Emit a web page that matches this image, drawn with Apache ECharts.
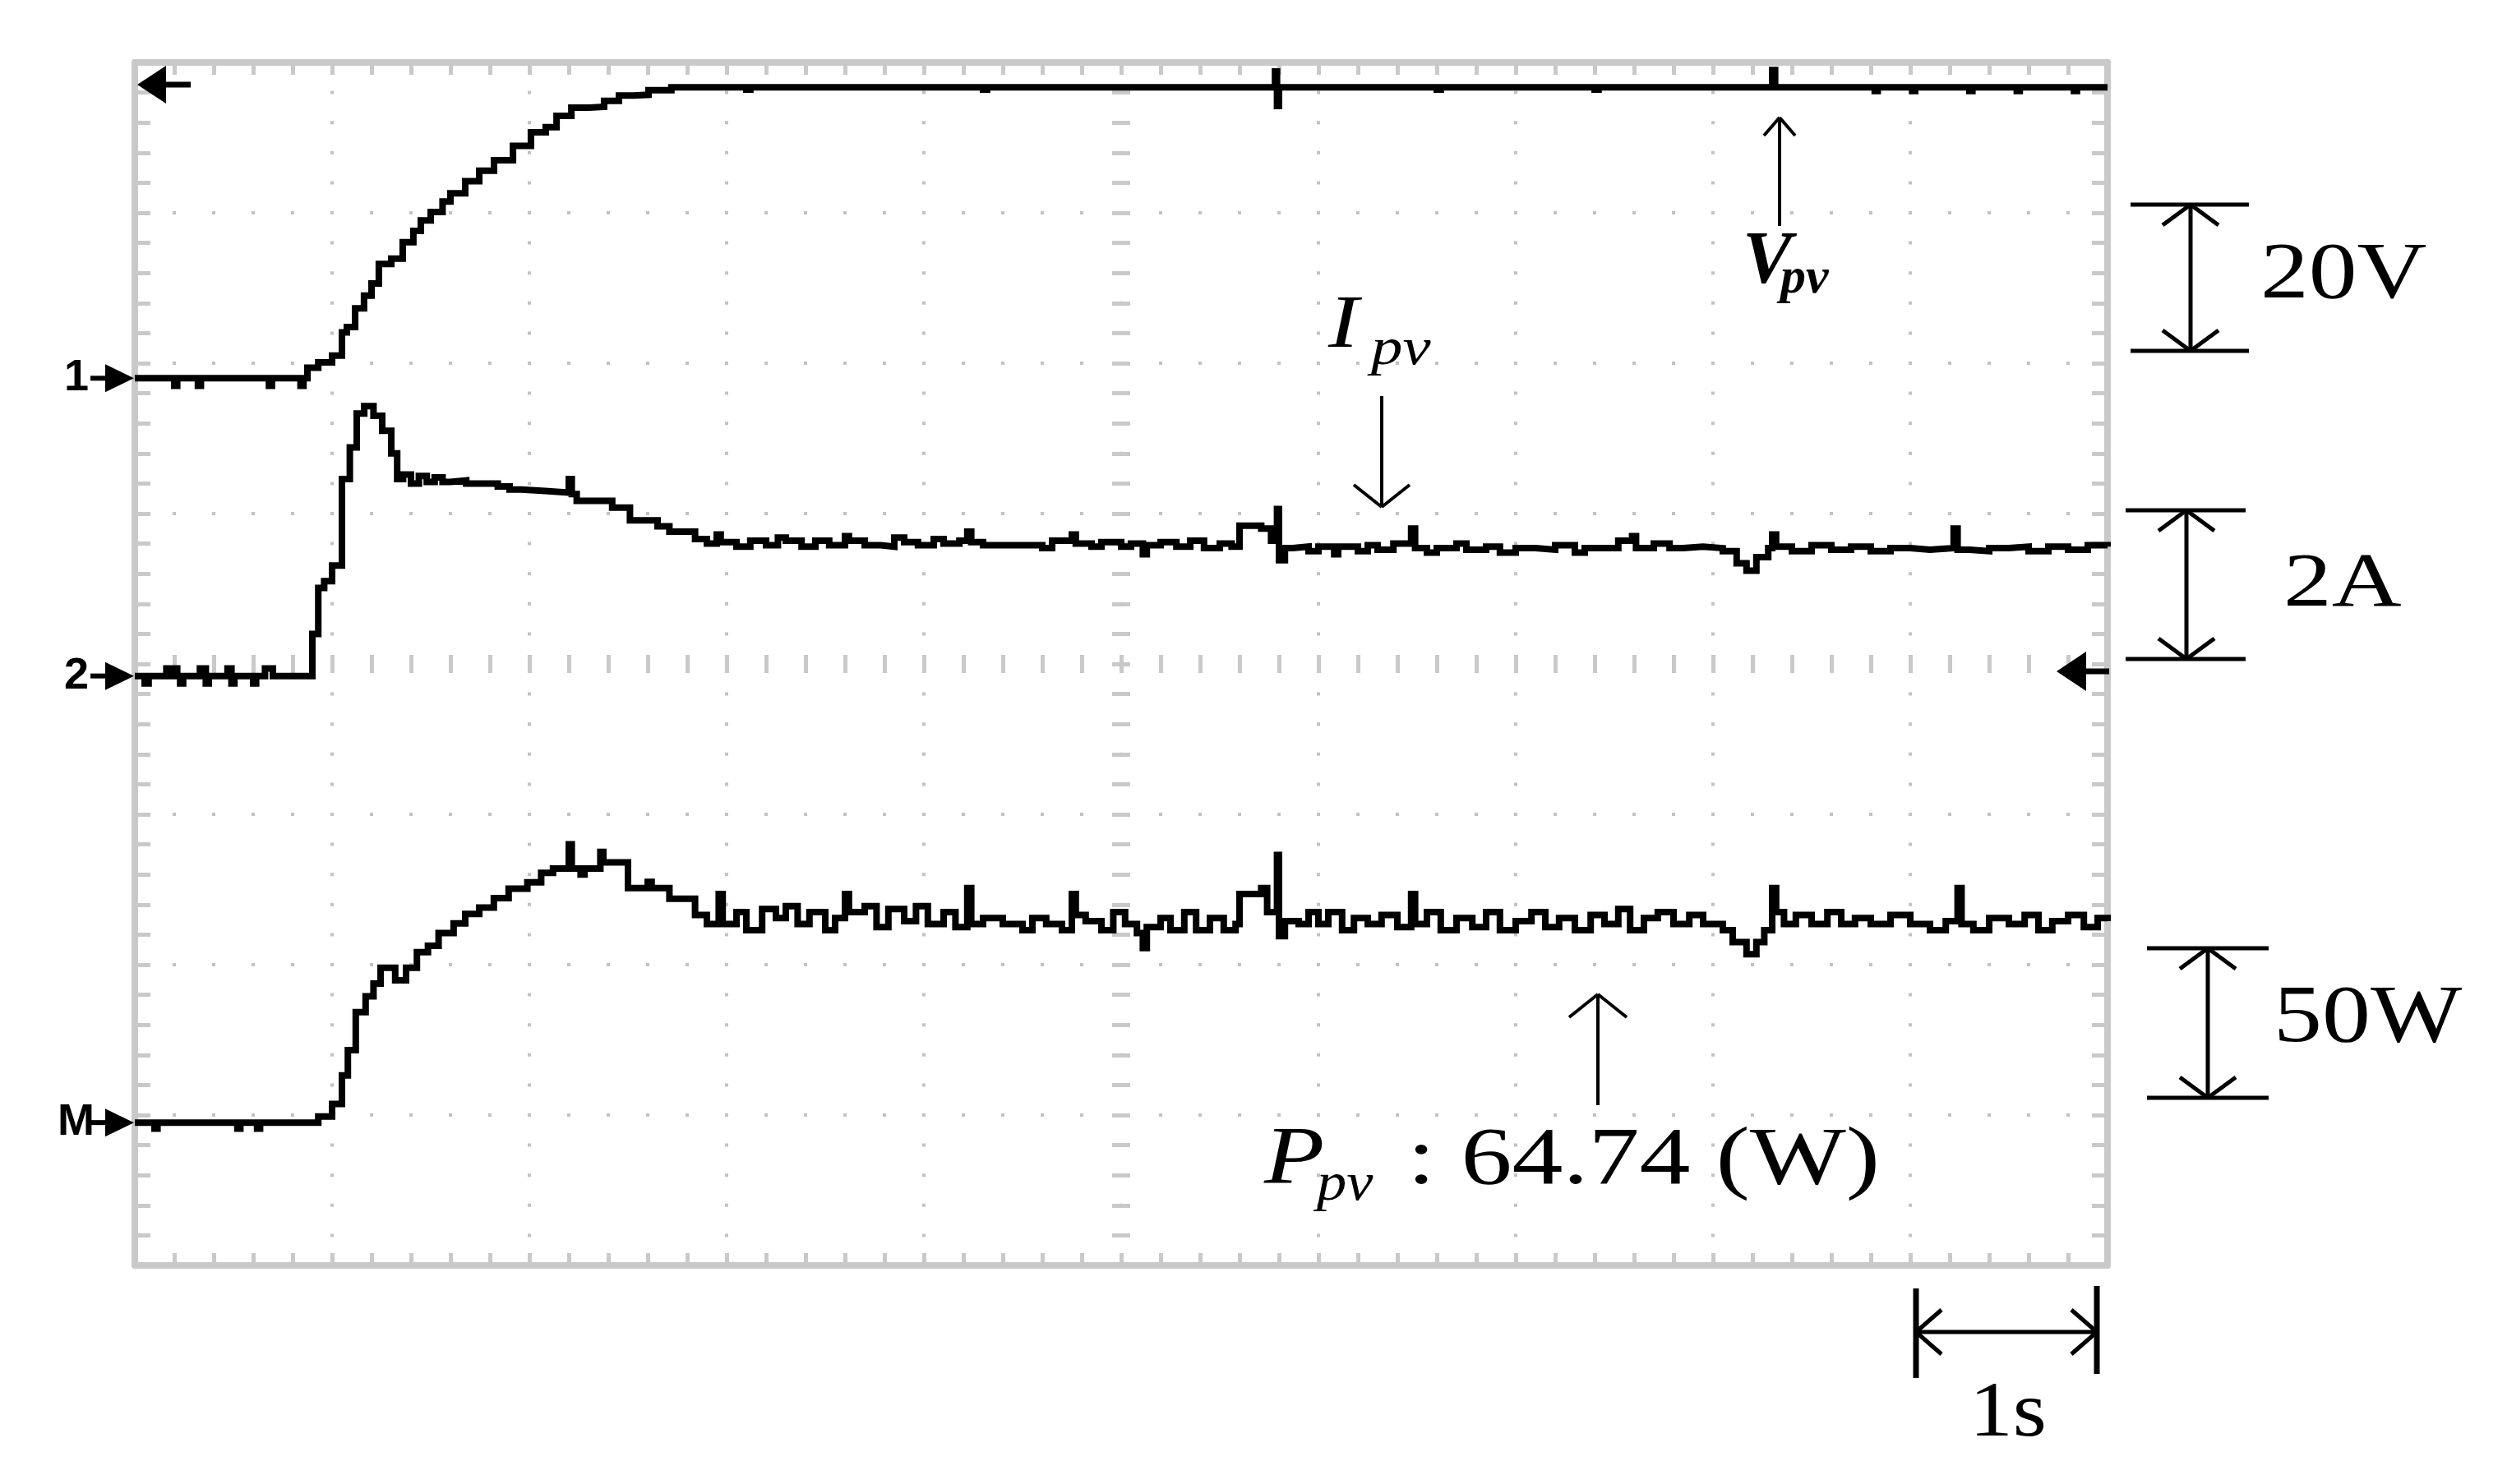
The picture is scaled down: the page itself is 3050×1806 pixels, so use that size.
<!DOCTYPE html>
<html>
<head>
<meta charset="utf-8">
<script src="https://cdn.jsdelivr.net/npm/echarts@6/dist/echarts.min.js"></script>
<style>
html,body{margin:0;padding:0;background:#fff;}
#chart{width:3050px;height:1806px;}
</style>
</head>
<body>
<div id="chart"></div>
<script>
// ---- Oscilloscope settings (per division) ----
const TIME_DIVS = [0, 10];          // 1 s / div
const VPV_SCALE = 20, VPV_GROUND = 1.9;    // 20 V/div, ground at +1.9 div
const IPV_SCALE = 2,  IPV_GROUND = -0.08;  // 2 A/div
const PPV_SCALE = 50, PPV_GROUND = -3.05;  // 50 W/div

// ---- Traces: [time (s), value] ----
const VPV = [
[0,0],[0.2,-1.0],[0.215,0],[0.32,-1.0],[0.335,0],[0.68,-1.0],[0.695,0],[0.84,-1.0],[0.855,0],
[0.875,1.4],[0.93,2.1],[1.0,3.0],[1.05,6.1],[1.075,6.8],[1.117,9.3],[1.162,11.0],[1.2,12.6],
[1.237,15.2],[1.3,15.9],[1.358,18.1],[1.412,19.6],[1.45,21.0],[1.5,22.1],[1.56,23.5],[1.6,24.6],
[1.675,26.2],[1.746,27.6],[1.821,29.0],[1.917,30.9],[2.008,32.7],[2.083,33.4],[2.138,34.9],
[2.213,36.0],[2.304,36.1],[2.379,36.9],[2.454,37.6],[2.529,37.7],[2.604,38.3],[2.72,38.7],
[3.1,38.4],[3.12,38.7],[4.3,38.4],[4.32,38.7],[5.78,40.8],[5.79,36.2],[5.8,38.7],
[6.6,38.4],[6.62,38.7],[7.4,38.4],[7.42,38.7],[8.3,41.0],[8.315,38.7],[8.82,38.2],[8.835,38.7],
[9.01,38.2],[9.025,38.7],[9.3,38.2],[9.315,38.7],[9.54,38.2],[9.555,38.7],[9.83,38.2],[9.845,38.7],[10,38.7]
];
const IPV = [
[0,0],[0.05,-0.1],[0.07,0],[0.16,0.1],[0.175,0],[0.2,0.1],[0.215,0],[0.23,-0.1],[0.245,0],
[0.33,0.1],[0.36,-0.1],[0.375,0],[0.47,0.1],[0.49,-0.1],[0.505,0],[0.6,-0.1],[0.615,0],[0.66,0.1],[0.7,0],
[0.9,0.56],[0.93,1.17],[0.96,1.26],[1.0,1.47],[1.05,2.62],[1.09,3.04],[1.125,3.49],[1.163,3.59],
[1.21,3.46],[1.254,3.26],[1.3,2.96],[1.33,2.62],[1.36,2.68],[1.4,2.56],[1.44,2.66],[1.48,2.58],
[1.52,2.64],[1.56,2.58],[1.6,2.6],[1.68,2.56],[1.75,2.56],[1.84,2.52],[1.9,2.48],[1.96,2.46],
[2.08,2.44],[2.2,2.62],[2.215,2.42],[2.24,2.33],[2.42,2.24],[2.51,2.07],[2.65,1.99],[2.71,1.92],
[2.84,1.82],[2.9,1.76],[2.95,1.88],[2.97,1.78],[3.05,1.72],[3.12,1.8],[3.2,1.74],[3.26,1.84],
[3.3,1.8],[3.38,1.72],[3.45,1.8],[3.52,1.74],[3.6,1.86],[3.62,1.8],[3.7,1.74],[3.78,1.72],
[3.85,1.84],[3.9,1.78],[3.97,1.74],[4.05,1.82],[4.1,1.76],[4.18,1.8],[4.22,1.92],[4.24,1.78],
[4.3,1.74],[4.52,1.74],[4.6,1.7],[4.65,1.8],[4.75,1.88],[4.77,1.76],[4.85,1.72],[4.9,1.78],
[5.0,1.72],[5.05,1.76],[5.11,1.62],[5.13,1.74],[5.2,1.78],[5.28,1.72],[5.35,1.8],[5.42,1.7],
[5.5,1.76],[5.56,1.72],[5.6,2.0],[5.71,1.96],[5.76,1.8],[5.79,2.22],[5.8,1.54],[5.83,1.7],
[5.87,1.72],[5.95,1.66],[6.0,1.72],[6.08,1.62],[6.1,1.72],[6.2,1.66],[6.25,1.74],[6.3,1.68],
[6.38,1.76],[6.47,1.96],[6.49,1.7],[6.55,1.64],[6.6,1.7],[6.7,1.76],[6.75,1.68],[6.85,1.72],
[6.92,1.64],[7.0,1.7],[7.1,1.68],[7.2,1.74],[7.3,1.64],[7.35,1.7],[7.45,1.7],[7.52,1.8],
[7.59,1.86],[7.61,1.7],[7.7,1.76],[7.78,1.7],[7.85,1.72],[7.95,1.7],[8.05,1.66],[8.12,1.5],
[8.17,1.4],[8.22,1.58],[8.28,1.7],[8.3,1.88],[8.32,1.72],[8.4,1.66],[8.5,1.74],[8.6,1.68],
[8.7,1.72],[8.8,1.66],[8.9,1.7],[9.0,1.68],[9.1,1.7],[9.22,1.96],[9.24,1.68],[9.3,1.66],
[9.4,1.7],[9.5,1.72],[9.6,1.66],[9.7,1.72],[9.8,1.68],[9.9,1.74],[10,1.72]
];
const PPV = [
[0,0],[0.1,-2],[0.115,0],[0.52,-2],[0.535,0],[0.62,-2],[0.635,0],
[0.93,2.0],[1.0,6.2],[1.05,15.7],[1.08,24.1],[1.12,36.7],[1.17,42.0],[1.21,46.2],[1.246,51.5],
[1.32,47.3],[1.375,51.5],[1.43,56.7],[1.486,58.8],[1.54,63.0],[1.616,66.2],[1.675,69.4],
[1.746,71.5],[1.82,74.6],[1.895,77.8],[1.99,79.9],[2.06,83.0],[2.12,84.5],[2.2,92.5],[2.215,84.5],
[2.26,82.5],[2.28,84.5],[2.36,90],[2.375,86.5],[2.44,86.5],[2.5,78],[2.6,80],[2.62,78],[2.68,78],
[2.71,74.4],[2.84,69],[2.9,66],[2.96,76],[2.98,66],[3.05,70],[3.1,64],[3.18,71],[3.25,68],
[3.3,72],[3.36,66],[3.42,70],[3.5,64],[3.55,68],[3.6,76],[3.62,70],[3.7,72],[3.76,65],[3.82,71],
[3.9,67],[3.96,72],[4.02,66],[4.1,70],[4.16,65],[4.22,78],[4.24,66],[4.3,68],[4.4,66],[4.5,64],
[4.55,68],[4.62,66],[4.7,64],[4.75,76],[4.77,69],[4.82,67],[4.9,64],[4.96,70],[5.02,66],[5.08,63],
[5.11,58],[5.13,65],[5.2,68],[5.25,64],[5.32,70],[5.38,64],[5.45,68],[5.52,64],[5.58,66],[5.6,76],
[5.71,78],[5.74,70],[5.79,89],[5.8,62],[5.83,67],[5.9,66],[5.95,70],[6.0,66],[6.05,70],[6.12,64],
[6.18,68],[6.25,66],[6.32,69],[6.4,65],[6.47,76],[6.49,66],[6.55,70],[6.62,64],[6.7,68],[6.78,65],
[6.85,70],[6.92,64],[7.0,67],[7.08,70],[7.15,65],[7.22,68],[7.3,64],[7.38,69],[7.45,66],[7.52,71],
[7.58,64],[7.65,68],[7.72,70],[7.8,66],[7.88,69],[7.95,66],[8.05,64],[8.1,60],[8.17,56],[8.22,60],
[8.26,64],[8.3,78],[8.32,70],[8.36,66],[8.42,69],[8.5,66],[8.58,70],[8.65,66],[8.72,68],[8.8,66],
[8.9,69],[9.0,66],[9.1,64],[9.18,67],[9.24,78],[9.26,66],[9.32,64],[9.4,68],[9.5,66],[9.58,69],
[9.65,64],[9.72,67],[9.8,69],[9.88,65],[9.95,68],[10,67]
];

// ---- Annotation texts ----
const SCALE_LABELS = ['20V', '2A', '50W', '1s'];
const CHANNEL_LABELS = ['1', '2', 'M'];
const READOUT = ': 64.74 (W)';

const GRAY = '#c9c9c9';
const DOT = '#c2c2c2';
const SERIF = '"Liberation Serif", "Times New Roman", serif';

const chart = echarts.init(document.getElementById('chart'), null, {renderer: 'canvas'});

function frameX(pos) {
  return {
    type: 'value', min: TIME_DIVS[0], max: TIME_DIVS[1], interval: 1, position: pos,
    axisLine: {show: true, onZero: false, lineStyle: {color: GRAY, width: 8}},
    axisTick: {show: true, inside: true, length: 15, lineStyle: {color: GRAY, width: 5}},
    minorTick: {show: true, splitNumber: 5, length: 15, lineStyle: {color: GRAY, width: 5}},
    axisLabel: {show: false},
    splitLine: pos === 'bottom' ? {show: true, lineStyle: {color: DOT, width: 4, type: [4, 32.6], dashOffset: 2}} : {show: false}
  };
}
function frameY(pos) {
  return {
    type: 'value', min: -4, max: 4, interval: 1, position: pos,
    axisLine: {show: true, onZero: false, lineStyle: {color: GRAY, width: 8}},
    axisTick: {show: true, inside: true, length: 19, lineStyle: {color: GRAY, width: 5}},
    minorTick: {show: true, splitNumber: 5, length: 19, lineStyle: {color: GRAY, width: 5}},
    axisLabel: {show: false},
    splitLine: pos === 'left' ? {show: true, lineStyle: {color: DOT, width: 4, type: [4, 44], dashOffset: 2}} : {show: false}
  };
}
function centerX(inside) {
  return {
    type: 'value', min: TIME_DIVS[0], max: TIME_DIVS[1], interval: 1,
    axisLine: {show: true, onZero: true, onZeroAxisIndex: 0, lineStyle: {color: 'rgba(0,0,0,0)', width: 1}},
    axisTick: {show: true, inside: inside, length: 11, lineStyle: {color: GRAY, width: 5}},
    minorTick: {show: true, splitNumber: 5, length: 11, lineStyle: {color: GRAY, width: 5}},
    axisLabel: {show: false}, splitLine: {show: false}
  };
}
function centerY(inside) {
  return {
    type: 'value', min: -4, max: 4, interval: 1,
    axisLine: {show: true, onZero: true, onZeroAxisIndex: 4, lineStyle: {color: 'rgba(0,0,0,0)', width: 1}},
    axisTick: {show: true, inside: inside, length: 11, lineStyle: {color: GRAY, width: 5}},
    minorTick: {show: true, splitNumber: 5, length: 11, lineStyle: {color: GRAY, width: 5}},
    axisLabel: {show: false}, splitLine: {show: false}
  };
}
function chanY(scale, ground) {
  return {type: 'value', show: false, min: (-4 - ground) * scale, max: (4 - ground) * scale,
          axisLine: {onZero: false}, splitLine: {show: false}};
}
function trace(data, yIdx) {
  return {type: 'line', xAxisIndex: 0, yAxisIndex: yIdx, data: data, step: 'end',
          symbol: 'none', showSymbol: false, silent: true,
          lineStyle: {color: '#000', width: 8, join: 'miter'}, z: 10};
}

chart.setOption({
  animation: false,
  backgroundColor: '#fff',
  grid: {left: 164, top: 76, width: 2400, height: 1464, show: false},
  xAxis: [frameX('bottom'), frameX('top'), centerX(true), centerX(false),
          {type: 'value', min: -5, max: 5, show: false, axisLine: {onZero: false}}],
  yAxis: [frameY('left'), frameY('right'), centerY(true), centerY(false),
          chanY(VPV_SCALE, VPV_GROUND), chanY(IPV_SCALE, IPV_GROUND), chanY(PPV_SCALE, PPV_GROUND)],
  series: [trace(VPV, 4), trace(IPV, 5), trace(PPV, 6)]
});

// ---- annotation graphics ----
const G = [];
function line(x1, y1, x2, y2, w) {
  G.push({type: 'line', shape: {x1, y1, x2, y2}, style: {stroke: '#000', lineWidth: w || 5}, z: 20});
}
function poly(points, fill) {
  G.push({type: 'polygon', shape: {points}, style: {fill: fill || '#000'}, z: 20});
}
function text(x, y, s, size, opt) {
  opt = opt || {};
  G.push({type: 'text', x, y, scaleX: opt.sx || 1, z: 20,
    style: {text: s, x: 0, y: 0, fill: '#000', align: opt.align || 'left', verticalAlign: 'middle',
      font: (opt.italic ? 'italic ' : '') + (opt.bold ? 'bold ' : '') + size + 'px ' + (opt.family || SERIF)}});
}
// vertical I-bar with open arrowheads
function vbar(x, y1, y2, capL, capR) {
  line(capL, y1, capR, y1, 5); line(capL, y2, capR, y2, 5);
  line(x, y1, x, y2, 5);
  line(x, y1, x - 34, y1 + 25, 5); line(x, y1, x + 34, y1 + 25, 5);
  line(x, y2, x - 34, y2 - 25, 5); line(x, y2, x + 34, y2 - 25, 5);
}
vbar(2665, 249, 427, 2592, 2736);
vbar(2660, 621, 802, 2586, 2732);
vbar(2686, 1154, 1336, 2612, 2760);
// horizontal time bar
line(2331, 1568, 2331, 1677, 7); line(2551, 1565, 2551, 1672, 7);
line(2331, 1621, 2551, 1621, 5);
line(2331, 1621, 2362, 1594, 5); line(2331, 1621, 2362, 1648, 5);
line(2551, 1621, 2520, 1594, 5); line(2551, 1621, 2520, 1648, 5);

text(2750, 336, SCALE_LABELS[0], 98, {sx: 1.2});
text(2778, 712, SCALE_LABELS[1], 94, {sx: 1.25});
text(2766, 1241, SCALE_LABELS[2], 100, {sx: 1.18});
text(2396, 1722, SCALE_LABELS[3], 96, {sx: 1.1});

// pointer arrows
line(2165, 275, 2165, 143, 4); line(2165, 143, 2146, 165, 4); line(2165, 143, 2184, 165, 4);
line(1681, 482, 1681, 617, 4); line(1681, 617, 1647, 590, 4); line(1681, 617, 1715, 590, 4);
line(1944, 1345, 1944, 1210, 4); line(1944, 1210, 1909, 1238, 4); line(1944, 1210, 1979, 1238, 4);

// signal names
text(2120, 321, 'V', 90, {italic: true, bold: true});
text(2166, 340, 'pv', 62, {italic: true, bold: true});
text(1616, 398, 'I', 92, {italic: true, sx: 1.2});
text(1668, 426, 'pv', 64, {italic: true, sx: 1.2});
text(1538, 1413, 'P', 100, {italic: true, sx: 1.2});
text(1602, 1443, 'pv', 66, {italic: true, sx: 1.1});
text(1712, 1414, READOUT, 100, {sx: 1.24});

// trigger markers
poly([[167, 103], [202, 80], [202, 126]]); line(200, 103, 232, 103, 7);
poly([[2502, 817], [2538, 793], [2538, 841]]); line(2536, 817, 2566, 817, 7);

// channel ground markers, placed through each channel's own axis
const grounds = [
  chart.convertToPixel({yAxisIndex: 4}, 0),
  chart.convertToPixel({yAxisIndex: 5}, 0),
  chart.convertToPixel({yAxisIndex: 6}, 0)
];
grounds.forEach(function (gy, i) {
  text(i === 2 ? 70 : 78, gy, CHANNEL_LABELS[i], 54, {family: '"Liberation Sans", Arial, sans-serif', bold: true});
  poly([[163, gy], [128, gy - 17], [128, gy + 17]]);
  line(110, gy, 130, gy, 6);
});

chart.setOption({graphic: {elements: G}});
</script>
</body>
</html>
